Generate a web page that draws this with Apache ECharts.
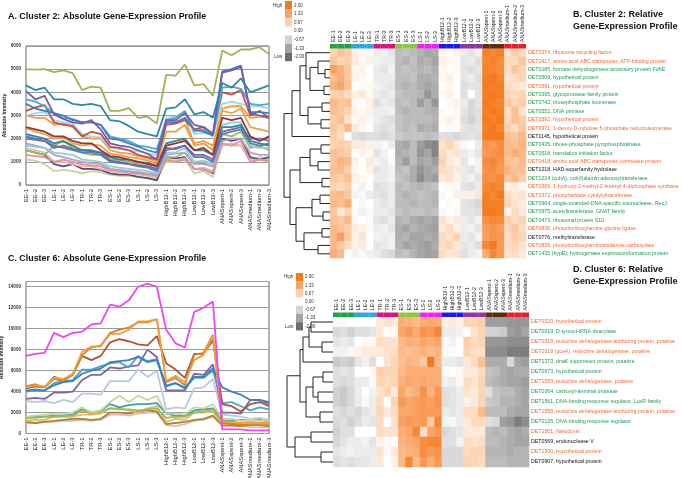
<!DOCTYPE html>
<html><head><meta charset="utf-8">
<script src="https://cdn.jsdelivr.net/npm/echarts/dist/echarts.min.js"></script>
<style>html,body{margin:0;padding:0;background:#fff}#c{width:682px;height:478px}</style>
</head><body><div id="c"></div><script>
// ---------- DATA ----------
const samples = ['EE-1','EE-2','EE-3','LE-1','LE-2','LE-3','TR-1','TR-2','TR-3','ES-1','ES-2','ES-3','LS-1','LS-2','LS-3','HighB12-1','HighB12-2','HighB12-3','LowB12-1','LowB12-2','LowB12-3','ANASspent-1','ANASspent-2','ANASspent-3','ANASmedium-1','ANASmedium-2','ANASmedium-3'];
const groups = ['EE','LE','TR','ES','LS','HighB12','LowB12','ANASspent','ANASmedium'];
const legendLevels = ['2.00','1.33','0.67','0.00','-0.67','-1.33','-2.00'];

// Panel A: cluster 2 absolute intensities
const aOlive   = [5000,4980,5000,4870,4950,4830,4100,4250,4200,3200,3200,3320,2900,2950,2650,4750,4720,5200,4300,4350,3850,5800,5600,5850,5850,5950,5650];
const aTeal    = [4300,4100,4200,3700,3700,3500,3450,3500,3400,2800,2750,2550,2300,2200,2100,3300,3350,3700,3050,3150,2900,4400,4200,4600,4000,4150,4300];
const aPurple  = [4050,3700,3850,3050,2850,2700,2650,2800,2400,1800,1700,1650,1500,1350,1100,2800,2800,3100,2600,2500,2200,4850,4950,5100,3100,3000,2900];
const aBlue    = [3500,3300,3200,3100,3000,2800,2700,2700,2600,2000,1950,1800,1650,1500,1400,2700,2700,2900,2400,2300,2150,4900,5000,5150,3150,3150,3100];
const aRed     = [3200,3350,3450,2700,2600,2550,2100,2300,2200,1650,1600,1500,1300,1200,1100,2600,2650,2800,2400,2500,2200,4000,3900,4100,3000,3200,2900];
const aOrange  = [3000,2900,2900,2600,2650,2500,2100,2000,2000,1500,1400,1350,1250,1150,1000,2700,2750,2850,1800,1900,1700,3300,3400,3400,2900,2950,2900];
const aLtBlue  = [3000,3100,3150,2800,2700,2650,2200,2100,2050,1600,1550,1500,1450,1350,1300,2900,2950,3150,2200,2250,2150,3500,3600,3500,3400,3400,3300];
const aSky     = [3700,3600,3400,3100,2900,2850,2700,2700,2600,2100,2000,1900,1700,1650,1550,2800,2900,3200,2300,2400,2100,4200,4250,4150,3500,3450,3500];
const aDkRed   = [2500,2400,2300,2100,2100,1900,1800,1800,1500,1250,1200,1100,1000,900,800,1700,1800,1900,1500,1600,1300,2900,2800,2900,2100,1900,2100];
const aOrange2 = [2450,2300,2200,2000,2050,1800,1700,1750,1700,1350,1300,1200,1150,1050,900,2300,2300,2600,1700,1800,1500,3200,3100,3300,2500,2400,2300];
const aBlue2   = [2100,2000,1900,1700,1600,1500,1400,1400,1300,1000,950,900,800,750,600,1500,1600,1700,1200,1200,1000,2200,2300,2400,1800,1700,1800];
const aPurple2 = [2000,1950,1900,1600,1700,1550,1500,1450,1400,1050,1000,900,850,800,700,1600,1550,1700,1300,1300,1100,2300,2400,2500,2000,2000,1900];
const aLtGreen = [1100,1050,900,600,650,600,500,600,550,450,400,400,350,300,300,1000,1000,1100,500,600,350,1800,1700,1700,1100,1200,1100];
const aGreen   = [1500,1400,1300,1700,1900,1600,1400,1300,1300,1100,1100,1000,900,800,700,1200,1200,1400,900,950,800,2200,2100,2300,1600,1700,1500];
const aPink    = [1600,1500,1400,1000,1000,900,800,800,700,600,550,500,450,400,350,1100,1050,1150,700,750,600,1700,1800,1700,1000,1100,1000];
const aLavender= [1800,1700,1600,1300,1200,1100,1000,950,900,700,650,600,550,500,450,1300,1350,1400,900,900,800,1900,2000,2000,1400,1300,1300];
const aDkPurple= [1500,1400,1300,900,800,900,700,700,650,500,450,450,350,300,200,1200,1150,1200,700,700,500,2000,1900,2000,1200,1100,1200];
const aTeal2   = [2200,2100,2000,1800,1900,1700,1500,1500,1400,1200,1100,1100,1000,950,850,1800,1900,2000,1500,1500,1300,2500,2500,2600,1900,1800,1700];
const aSalmon  = [1300,1250,1200,1000,1100,1000,900,850,800,650,600,550,500,450,400,1100,1000,1100,700,650,550,1800,1700,1900,1000,1100,1050];
const aSky2    = [1700,1650,1600,1400,1350,1300,1100,1050,1000,800,750,700,650,600,500,1400,1400,1600,1000,1050,900,2600,2700,2700,1700,1600,1600];

// Panel C: cluster 6 absolute intensities
const cMagenta = [7400,7600,7700,9600,9200,9600,9700,10400,10500,12300,12100,12700,14000,14300,14000,9900,8600,8200,11600,12000,12600,400,400,400,300,300,300];
const cOrange  = [4400,4600,4500,5300,5200,5700,7800,8300,8300,9500,9500,9900,10700,10700,10900,5000,5500,4900,7000,7500,9300,1200,1100,1000,1000,1000,1000];
const cDkOrange= [4500,4700,4400,5200,5000,5600,7500,8200,8400,9600,9900,10100,10600,10600,10900,4900,5300,4600,7500,7700,9400,1000,900,900,800,800,800];
const cBrown   = [4300,4500,4400,5400,5100,5600,7400,7000,7400,8700,9000,8800,8500,8400,9300,6700,6100,5300,7600,7600,8900,2800,2600,2100,2800,3000,2600];
const cBlue    = [4100,4200,4100,4600,4900,5000,5700,6000,6200,6800,6900,7000,7300,6800,7000,4500,4800,4300,5400,5400,6200,4400,4000,3700,3200,3200,3000];
const cSteel   = [4000,4100,4100,4800,5000,5100,6100,6100,6400,6700,6800,6300,7400,6900,7100,4600,4800,4400,5300,5300,6000,2900,3000,2600,2200,2500,2300];
const cPurple  = [3300,3400,3300,3900,3900,4000,5100,5600,5600,6300,6200,6400,6500,8000,7300,4100,4100,4100,5700,5600,6600,2000,2000,1900,3200,3200,2800];
const cGrayBlue= [3100,3000,3100,2900,3200,3000,3800,3800,3700,5000,5000,5000,6100,5400,6000,2300,2500,2400,4300,4400,5200,1800,1700,1600,1400,1500,1300];
const cLtGreen = [1600,1700,1800,1900,1900,2000,2500,2000,2200,3000,3600,3000,3600,3200,3600,1900,1900,1800,2500,2400,2800,1400,1400,1200,1200,1200,1200];
const cTeal    = [1500,1600,1600,1700,1700,1800,2300,2000,2200,2800,2500,2700,2800,2800,2900,1900,1700,1700,2200,2300,2400,1300,1200,1300,1200,1300,1100];
const cLtOrange= [1200,1300,1300,1600,1600,1600,1800,1800,1900,2400,2400,2200,2000,2400,2600,1100,1400,1300,2000,2000,2100,900,900,900,1000,1000,900];
const cOlive   = [1100,1000,1100,1200,1300,1400,1400,1300,1400,2000,2000,1900,2100,2200,2100,900,1000,1100,1300,1400,1700,800,800,700,800,800,700];
const cPink    = [1000,1000,1100,1100,1200,1200,1300,1200,1300,1800,1800,1700,1900,2000,2000,800,700,900,1200,1300,1600,700,700,700,600,600,600];
const cGreen   = [1500,1500,1600,1600,1700,1700,2200,1900,2100,2400,2300,2300,2200,2300,2400,1500,1600,1600,2000,2100,2300,1100,1000,1000,1000,1000,1000];

// Panel B: cluster 2 relative expression (rows top->bottom)
const rowsB = ['DET0374, ribosome recycling factor','DET0417, amino acid ABC transporter, ATP-binding protein','DET0185, formate dehydrogenase accessory protein FdhE','DET0509, hypothetical protein','DET0591, hypothetical protein','DET0395, glycoprotease family protein','DET0742, triosephosphate isomerase','DET0552, DNA primase','DET0592, hypothetical protein','DET0371, 1-deoxy-D-xylulose 5-phosphate reductoisomerase','DET1145, hypothetical protein','DET0435, ribose-phosphate pyrophosphokinase','DET0518, translation initiation factor','DET0418, amino acid ABC transporter, permease protein','DET1218, HAD-superfamily hydrolase','DET1224 (cobA), cob(I)alamin adenosyltransferase','DET0369, 1-hydroxy-2-methyl-2-butenyl 4-diphosphate synthase','DET0372, phosphatidate cytidylyltransferase','DET0964, single-stranded-DNA-specific exonuclease, RecJ','DET0975, acetyltransferase, GNAT family','DET0473, ribosomal protein S10','DET0838, phosphoribosylamine-glycine ligase','DET0776, methyltransferase','DET0839, phosphoribosylaminoimidazole carboxylase','DET1435 (hypE), hydrogenase expression/formation protein'];
const classB = ['o','o','g','g','o','g','g','g','o','o','k','g','g','o','k','g','o','o','g','g','g','o','k','o','g'];
const heatB = [
[0.6,0.9,0.7, 0.2,0.1,0.1, -0.3,-0.2,-0.4, -1.0,-0.9,-1.0, -1.1,-1.3,-1.2, 0.1,0.0,0.2, -0.3,-0.4,-0.2, 1.9,1.8,1.9, 0.4,0.7,0.5],
[0.8,0.6,0.7, 0.3,0.1,0.2, -0.2,-0.3,-0.3, -1.0,-1.1,-0.9, -1.2,-1.1,-1.3, 0.2,0.1,0.1, -0.4,-0.3,-0.5, 1.8,1.9,1.7, 0.6,0.5,0.8],
[1.4,1.1,0.8, 0.1,0.2,0.0, -0.3,-0.4,-0.2, -1.0,-0.9,-1.0, -1.1,-1.0,-1.2, 0.1,0.0,0.1, -0.4,-0.5,-0.4, 1.9,1.8,1.7, 0.5,0.8,0.6],
[0.9,1.2,0.8, 0.2,0.1,0.0, -0.3,-0.3,-0.3, -1.0,-1.0,-0.9, -1.2,-1.2,-1.1, 0.1,0.2,0.0, -0.4,-0.3,-0.5, 1.9,2.0,1.8, 0.4,0.5,0.6],
[1.1,1.3,0.9, 0.0,-0.1,0.1, -0.2,-0.3,-0.4, -1.0,-1.1,-1.0, -1.2,-1.3,-1.2, 0.0,0.1,0.0, -0.5,-0.4,-0.4, 2.0,1.9,1.9, 0.5,0.4,0.3],
[0.6,0.7,0.5, 0.2,0.3,0.1, -0.3,-0.4,-0.3, -0.9,-1.0,-1.0, -1.1,-1.5,-1.2, 0.1,0.2,0.0, -0.5,0.0,-0.4, 1.9,2.0,1.9, 0.6,0.5,0.6],
[1.0,0.8,0.9, 0.1,0.0,0.2, -0.5,-0.3,-0.4, -1.0,-0.9,-1.0, -1.4,-1.1,-1.5, 0.0,0.1,0.2, -0.3,-0.6,-0.4, 2.0,1.9,1.8, 0.8,0.6,0.7],
[0.9,0.8,0.6, 0.2,0.1,0.2, -0.3,-0.3,-0.2, -1.0,-1.1,-1.0, -1.0,-1.1,-1.2, 0.1,0.0,0.1, -0.4,-0.6,-0.5, 1.9,2.0,1.9, 0.5,0.9,0.4],
[0.7,0.9,0.4, 0.1,0.2,-0.1, -0.3,-0.4,-0.5, -0.9,-1.0,-1.0, -1.0,-1.0,-1.1, 0.1,0.2,0.1, -0.5,-0.7,-0.5, 2.0,1.9,2.0, 0.6,0.9,0.7],
[0.8,0.6,1.0, 0.3,0.1,0.0, -0.4,-0.5,-0.4, -0.9,-1.0,-0.9, -1.2,-1.1,-1.2, 0.0,-0.1,0.1, -0.4,-0.5,-0.4, 1.9,2.0,1.8, 0.7,0.5,0.8],
[0.7,0.5,0.0, -0.5,-0.6,-0.5, -0.5,-0.6,-0.5, -0.8,-0.9,-0.9, -0.9,-1.0,-0.9, -0.5,-0.5,-0.6, -0.5,-0.4,-0.5, 2.0,2.0,2.0, 0.9,0.8,1.0],
[0.6,0.7,0.6, 0.3,0.3,0.2, -0.2,-0.1,-0.3, -1.2,-1.3,-1.0, -1.4,-1.6,-1.7, 0.4,0.6,0.3, -0.1,0.0,-0.3, 1.6,1.5,1.7, 1.0,0.9,1.1],
[0.9,0.8,0.7, 0.0,0.2,0.1, -0.4,-0.2,0.0, -1.2,-1.1,-1.0, -1.5,-1.3,-1.7, 0.5,0.3,0.4, -0.3,-0.2,-0.4, 1.5,1.6,1.7, 1.0,1.2,1.0],
[0.8,1.1,1.0, 0.2,0.0,0.3, -0.2,-0.3,-0.1, -1.1,-1.4,-1.0, -1.3,-1.2,-1.4, 0.6,0.3,0.2, -0.4,0.1,-0.2, 1.7,1.8,1.6, 0.9,0.8,1.0],
[0.9,1.0,0.7, 0.1,0.0,0.2, -0.4,-0.3,-0.2, -1.0,-0.9,-1.2, -1.5,-1.3,-1.2, 0.5,0.4,0.3, -0.3,-0.4,-0.2, 1.6,1.7,1.5, 1.1,0.9,0.9],
[0.8,0.7,0.9, 0.2,0.1,0.0, -0.3,-0.3,-0.2, -0.9,-1.0,-1.2, -1.6,-1.3,-1.4, 0.3,0.4,0.2, -0.3,-0.2,-0.4, 1.7,1.6,1.8, 0.8,1.0,0.7],
[0.6,0.5,0.7, -0.1,-0.2,0.0, -0.5,-0.4,-0.3, -1.0,-0.9,-1.0, -1.1,-1.0,-0.9, 0.0,0.1,-0.1, -0.4,-0.5,-0.3, 1.8,1.9,1.8, 0.2,0.3,0.1],
[0.9,1.0,0.8, -0.2,-0.1,-0.3, -0.4,-0.5,-0.3, -1.0,-1.1,-1.0, -0.9,-1.0,-1.1, -0.1,0.0,0.2, -0.2,0.2,-0.3, 1.9,1.8,2.0, 0.5,0.3,0.4],
[1.0,0.9,1.2, 0.0,-0.1,0.0, -0.3,-0.4,-0.3, -1.0,-1.0,-1.1, -1.0,-1.0,-1.1, 0.0,0.1,0.0, -0.4,-0.5,-0.6, 2.0,1.9,1.9, 0.6,0.4,0.3],
[0.8,0.3,0.6, -0.1,-0.2,-0.1, -0.3,-0.3,-0.4, -0.9,-1.0,-0.9, -0.9,-1.0,-0.9, -0.1,0.0,-0.1, -0.4,-0.4,-0.5, 2.0,2.0,1.9, 0.2,0.5,0.3],
[0.9,0.8,1.0, 0.1,0.0,0.1, -0.4,-0.5,-0.3, -1.1,-1.0,-1.2, -1.3,-1.2,-1.3, 0.4,0.2,0.3, -0.3,-0.4,-0.2, 1.6,1.8,1.7, 0.7,0.5,0.6],
[1.0,0.9,0.7, 0.3,0.2,0.1, -0.3,-0.2,-0.4, -1.2,-1.3,-1.1, -1.2,-1.3,-1.4, 0.3,0.5,0.2, -0.3,-0.2,-0.4, 1.5,1.6,1.4, 0.6,0.8,0.5],
[1.0,1.4,0.8, 0.2,0.4,0.0, -0.2,-0.3,-0.2, -1.2,-1.1,-1.3, -1.3,-1.2,-1.3, 0.5,0.4,0.6, -0.3,-0.4,-0.2, 1.4,1.6,1.5, 0.5,0.7,0.6],
[1.0,0.8,0.5, 0.2,0.3,0.0, -0.4,-0.3,-0.2, -1.1,-1.3,-1.2, -1.3,-1.4,-1.2, 0.5,0.6,0.3, -0.4,-0.3,-0.5, 1.8,2.0,1.5, 0.5,0.6,0.4],
[1.2,1.0,0.0, -0.2,-0.1,-0.2, -0.3,-0.5,-0.6, -1.0,-0.9,-1.1, -1.3,-1.4,-1.3, 0.5,0.3,0.4, -0.5,-0.3,-0.2, 1.2,1.8,1.5, 0.4,0.5,0.3]
];
// dendrogram B: [height, left, right]; leaves are row indices
const treeB = [46,
  [38, [30, [24, 0, [20, [12, 1, [5, 2, 3]], [6, 4, 5]]], [22, [8, 6, 7], [9, 8, 9]]], 10],
  [40, [30, [20, [9, 11, 12], [12, 13, 14]], [8, 15, 16]], [34, [18, [10, 17, 18], [7, 19, 20]], [26, [8, 21, 22], [12, 23, 24]]]]
];

// Panel D: cluster 6 relative expression
const rowsD = ['DET0320, hypothetical protein','DET0019, D-tyrosyl-tRNA deacylase','DET0319, reductive dehalogenase anchoring protein, putative','DET0318 (pceA), reductive dehalogenase, putative','DET1373, dnaK suppressor protein, putative','DET0673, hypothetical protein','DET1559, reductive dehalogenase, putative','DET0364, carboxyl-terminal protease','DET1561, DNA-binding response regulator, LuxR family','DET1558, reductive dehalogenase anchoring protein, putative','DET0135, DNA-binding response regulator','DET1501, flavodoxin','DET0569, endonuclease V','DET1500, hypothetical protein','DET0907, hypothetical protein'];
const classD = ['o','g','o','o','g','g','o','g','g','o','g','o','k','o','k'];
const heatD = [
[-0.1,-0.1,0.0, 0.0,0.0,0.0, 0.3,0.4,0.3, 1.2,1.1,1.0, 1.2,1.3,1.2, 0.2,0.3,0.2, 0.6,0.6,0.7, -1.4,-1.4,-1.4, -1.5,-1.5,-1.5],
[-0.6,-0.5,-0.7, -0.5,-0.5,-0.4, 0.3,0.0,0.1, 1.3,1.5,1.2, 1.6,1.5,1.8, -0.3,-0.3,-0.2, 0.0,0.4,0.6, -0.7,-0.7,-0.8, -1.4,-1.5,-1.3],
[-0.4,-0.3,-0.4, 0.0,0.1,-0.1, 0.5,0.4,0.4, 1.0,1.2,1.1, 1.3,1.2,1.3, -0.1,-0.2,0.0, 0.7,0.5,0.6, -1.5,-1.5,-1.5, -1.6,-1.6,-1.6],
[-0.2,-0.2,-0.1, 0.2,0.3,0.3, 0.3,0.4,0.5, 1.0,0.9,1.0, 1.1,1.0,1.1, 0.1,0.1,0.0, 0.6,0.5,0.4, -1.6,-1.6,-1.6, -1.8,-1.8,-1.8],
[-0.8,-0.7,-0.8, -0.4,-0.2,-0.5, 0.0,0.4,0.6, 0.9,1.1,1.0, 0.8,2.0,1.0, -0.3,-0.3,-0.4, 0.3,0.5,0.9, -1.2,-1.2,-1.2, -0.6,-1.3,-1.4],
[-0.5,-0.4,-0.5, 0.0,0.0,0.1, 0.7,0.6,0.6, 1.0,1.2,1.2, 1.2,1.2,1.2, 0.1,0.0,0.1, 0.3,0.3,0.5, -0.9,-1.0,-1.2, -1.3,-1.2,-1.2],
[-0.5,-0.6,-0.5, -0.3,-0.3,-0.1, 0.6,0.5,0.6, 1.1,1.3,1.2, 1.3,1.2,1.2, -0.2,-0.3,-0.1, 0.5,0.4,0.6, -1.0,-1.1,-1.2, -1.3,-1.3,-1.4],
[-0.7,-0.8,-0.6, -0.3,0.0,-0.2, 0.4,0.6,0.3, 1.3,1.0,1.2, 1.6,1.1,1.5, -0.5,-0.4,-0.3, 0.4,0.3,0.6, -0.5,-0.9,-1.0, -1.0,-1.2,-1.3],
[-0.7,-0.8,-0.6, -0.3,-0.1,-0.3, 0.5,0.0,0.6, 1.5,1.3,1.4, 1.5,1.4,1.6, -0.5,-0.4,-0.3, 0.2,0.3,0.6, -0.8,-0.9,-1.1, -1.1,-1.2,-1.3],
[-0.5,-0.6,-0.5, -0.6,-0.4,-0.3, 0.6,0.3,0.5, 1.3,1.3,1.4, 1.5,1.5,1.5, -0.3,-0.4,-0.3, 0.5,0.5,1.0, -1.0,-1.0,-1.0, -1.2,-1.3,-1.3],
[-0.6,-0.5,-0.7, -0.5,-0.3,-0.4, 0.5,0.0,0.4, 1.4,1.5,1.4, 1.5,0.8,1.8, -0.2,-0.1,-0.3, 0.3,0.5,0.5, -0.5,-0.6,-1.4, -1.5,-1.8,-1.6],
[-0.7,-0.5,-0.5, 0.0,0.0,0.0, 0.5,0.4,0.4, 1.2,1.3,1.8, 0.5,1.3,1.5, -0.6,-0.5,-0.4, 0.3,0.3,0.3, -1.0,-1.1,-1.0, -1.2,-1.3,-1.2],
[-0.6,-0.4,-0.3, -0.3,-0.2,-0.4, 0.2,-0.1,0.0, 1.1,1.2,1.3, 1.7,1.8,1.8, -0.5,-0.5,-0.2, 0.5,0.4,0.5, -1.0,-1.0,-1.1, -1.2,-1.3,-1.3],
[-0.4,-0.3,-0.2, -0.3,-0.3,-0.3, 0.4,0.1,0.3, 1.0,1.1,1.2, 1.7,1.5,1.6, -0.6,-0.6,-0.6, 0.5,0.6,0.6, -1.1,-1.1,-1.1, -1.2,-1.1,-1.1],
[-0.5,-0.4,-0.5, -0.4,-0.4,-0.3, 0.3,0.0,0.2, 1.0,1.8,1.0, 1.5,1.2,1.5, -0.6,-0.6,-0.6, 0.6,0.6,0.5, -1.0,-1.0,-1.0, -1.1,-1.1,-1.1]
];
const treeD = [46,
  [33, [30, [24, [22, 0, 1], [11, 2, 3]], 4], [27, [20, [10, 5, 6], [15, 7, 8]], [13, 9, 10]]],
  [38, [22, 11, 12], [12, 13, 14]]
];

// ---------- STYLE ----------
const FONT = 'Liberation Sans';
const groupColor = {EE:'#23a04a',LE:'#2fa8e0',TR:'#d8177c',ES:'#8cc63f',LS:'#ee22ee',HighB12:'#1b1be4',LowB12:'#8b3a97',ANASspent:'#5a2c12',ANASmedium:'#e8202e'};
const scaleColors = ['#f57a1f','#f9a467','#fcd0ad','#ffffff','#d4d4d4','#a3a3a3','#6d6d6d'];
const txtColor = {o:'#ef6a3b', g:'#1f9a52', k:'#111111'};
const LBL = 5.25;

const aList = [
  [aLtGreen,'#c3d69b'],[aDkPurple,'#604a7b'],[aPink,'#e6b9b8'],[aSalmon,'#d99694'],[aGreen,'#9bbb59'],[aLavender,'#b3a2c7'],[aSky2,'#93cddd'],
  [aBlue2,'#4f81bd'],[aPurple2,'#8064a2'],[aTeal2,'#31859c'],[aOrange2,'#e8a04c'],[aDkRed,'#953735'],
  [aOrange,'#f59d3d'],[aLtBlue,'#9fd6ee'],[aRed,'#c0504d'],[aSky,'#4bacc6'],[aBlue,'#3e7ec0'],[aPurple,'#7b5ba5'],[aTeal,'#2f87a8'],[aOlive,'#9bb55a']
];
const cList = [
  [cPink,'#e6b9b8'],[cOlive,'#9b8b3c'],[cLtOrange,'#f5b060'],[cTeal,'#3fa0b8'],[cGreen,'#9bbb59'],[cLtGreen,'#c4d89c'],[cGrayBlue,'#b9c7e2'],
  [cPurple,'#8064a2'],[cSteel,'#4aa3c8'],[cBlue,'#3d7fc4'],[cBrown,'#b0523a'],[cDkOrange,'#d9822b'],[cOrange,'#f0a040'],[cMagenta,'#f046f0']
];

function dendroSegments(tree){
  const segs = [];
  (function walk(n){
    if (typeof n === 'number') return {y:n, h:0};
    const L = walk(n[1]), R = walk(n[2]);
    segs.push({coords:[[L.h,L.y],[n[0],L.y],[n[0],R.y],[R.h,R.y]]});
    return {y:(L.y+R.y)/2, h:n[0]};
  })(tree);
  return segs;
}
function heatData(m){ const d=[]; m.forEach((row,r)=>row.forEach((v,c)=>d.push([c,r,v]))); return d; }
function stripData(){ return samples.map(s=>({value:1,itemStyle:{color:groupColor[s.replace(/-\d+$/,'')]}})); }

const lineX = (g) => ({type:'category',gridIndex:g,data:samples,boundaryGap:false,
  axisLine:{show:false},axisTick:{show:false},
  axisLabel:{rotate:90,interval:0,fontSize:5.8,fontFamily:FONT,color:'#222',margin:4}});
const lineY = (g,max,intv) => ({type:'value',gridIndex:g,min:0,max:max,interval:intv,
  name:'Absolute Intensity',nameLocation:'middle',nameGap:19,
  nameTextStyle:{fontSize:5,fontWeight:'bold',fontFamily:FONT,color:'#222'},
  axisLine:{show:false},axisTick:{show:false},
  axisLabel:{fontSize:4.6,fontWeight:'bold',fontFamily:FONT,color:'#333',margin:5,showMaxLabel:max===6000,formatter:v=>String(v)},
  splitLine:{lineStyle:{color:'#9a9a9a',width:1}}});
const stripX = (g) => ({type:'category',gridIndex:g,data:samples,position:'top',
  axisLine:{show:false},axisTick:{show:false},
  axisLabel:{rotate:90,interval:0,fontSize:5.2,fontFamily:FONT,color:'#222',margin:2}});
const hiddenVal = (g,min,max,inv) => ({type:'value',gridIndex:g,min:min,max:max,inverse:!!inv,show:false});
const heatX = (g) => ({type:'category',gridIndex:g,data:samples,show:false});
const heatY = (g,rows,cls) => ({type:'category',gridIndex:g,data:rows,inverse:true,position:'right',
  axisLine:{show:false},axisTick:{show:false},
  axisLabel:{interval:0,margin:2,fontSize:LBL,fontFamily:FONT,
    formatter:(v,i)=>'{'+cls[i]+'|'+v+'}',
    rich:{o:{color:txtColor.o,fontSize:LBL,fontFamily:FONT},g:{color:txtColor.g,fontSize:LBL,fontFamily:FONT},k:{color:txtColor.k,fontSize:LBL,fontFamily:FONT}}}});

function legendGraphic(x, y0, step){
  const els = [];
  legendLevels.forEach((lv,i)=>{
    els.push({type:'rect',left:x,top:y0+i*step,shape:{width:7,height:step},style:{fill:scaleColors[i]}});
    els.push({type:'text',left:x+9,top:y0+i*step+step/2-2.5,style:{text:lv,fontSize:4.5,fontFamily:FONT,fill:'#333'}});
  });
  els.push({type:'text',left:x-12,top:y0+step/2-2.5,style:{text:'High',fontSize:4.5,fontFamily:FONT,fill:'#333'}});
  els.push({type:'text',left:x-11,top:y0+6*step+step/2-2.5,style:{text:'Low',fontSize:4.5,fontFamily:FONT,fill:'#333'}});
  return els;
}

const series = [];
aList.forEach(([d,c])=>series.push({type:'line',xAxisIndex:0,yAxisIndex:0,data:d,symbol:'none',lineStyle:{width:1.8,color:c},itemStyle:{color:c},silent:true}));
cList.forEach(([d,c])=>series.push({type:'line',xAxisIndex:1,yAxisIndex:1,data:d,symbol:'none',lineStyle:{width:1.8,color:c},itemStyle:{color:c},silent:true}));
series.push({type:'bar',xAxisIndex:2,yAxisIndex:2,data:stripData(),barWidth:'100%',silent:true});
const hbIdx = series.length;
series.push({type:'heatmap',xAxisIndex:3,yAxisIndex:3,data:heatData(heatB),silent:true});
series.push({type:'lines',coordinateSystem:'cartesian2d',xAxisIndex:4,yAxisIndex:4,polyline:true,data:dendroSegments(treeB),lineStyle:{color:'#222',width:1,opacity:1},silent:true});
series.push({type:'bar',xAxisIndex:5,yAxisIndex:5,data:stripData(),barWidth:'100%',silent:true});
const hdIdx = series.length;
series.push({type:'heatmap',xAxisIndex:6,yAxisIndex:6,data:heatData(heatD),silent:true});
series.push({type:'lines',coordinateSystem:'cartesian2d',xAxisIndex:7,yAxisIndex:7,polyline:true,data:dendroSegments(treeD),lineStyle:{color:'#222',width:1,opacity:1},silent:true});

const TS = {fontSize:8.9,fontWeight:'bold',fontFamily:FONT,color:'#111'};
const TS2 = {fontSize:9,fontWeight:'bold',fontFamily:FONT,color:'#111',lineHeight:12};
const G = (o) => Object.assign({outerBoundsMode:'none',containLabel:false}, o);
const option = {
  animation:false,
  backgroundColor:'#fff',
  title:[
    {text:'A. Cluster 2: Absolute Gene-Expression Profile',left:3,top:7,textStyle:TS},
    {text:'C. Cluster 6: Absolute Gene-Expression Profile',left:3,top:249,textStyle:TS},
    {text:'B. Cluster 2: Relative\nGene-Expression Profile',left:568,top:4,textStyle:TS2},
    {text:'D. Cluster 6: Relative\nGene-Expression Profile',left:568,top:259,textStyle:TS2}
  ],
  grid:[
    G({left:26,top:46,width:243,height:139,show:true,borderColor:'#666',borderWidth:1}),
    G({left:26,top:281.5,width:243,height:152,show:true,borderColor:'#666',borderWidth:1}),
    G({left:330,top:44,width:196,height:4.5}),
    G({left:330,top:48.5,width:196,height:209.5}),
    G({left:283,top:48.5,width:47,height:209.5}),
    G({left:333,top:312.5,width:196,height:4.5}),
    G({left:333,top:317,width:196,height:150}),
    G({left:285,top:317,width:48,height:150})
  ],
  xAxis:[lineX(0),lineX(1),stripX(2),heatX(3),hiddenVal(4,0,47,true),stripX(5),heatX(6),hiddenVal(7,0,48,true)],
  yAxis:[lineY(0,6000,1000),lineY(1,14500,2000),hiddenVal(2,0,1),heatY(3,rowsB,classB),hiddenVal(4,-0.5,rowsB.length-0.5,true),hiddenVal(5,0,1),heatY(6,rowsD,classD),hiddenVal(7,-0.5,rowsD.length-0.5,true)],
  visualMap:[{type:'continuous',show:false,min:-2,max:2,seriesIndex:[hbIdx,hdIdx],inRange:{color:scaleColors.slice().reverse()}}],
  graphic:[...legendGraphic(285,1,8.6),...legendGraphic(296,273,8.2)],
  series:series
};
const chart = echarts.init(document.getElementById('c'),null,{renderer:'canvas'});
chart.setOption(option);
</script></body></html>
